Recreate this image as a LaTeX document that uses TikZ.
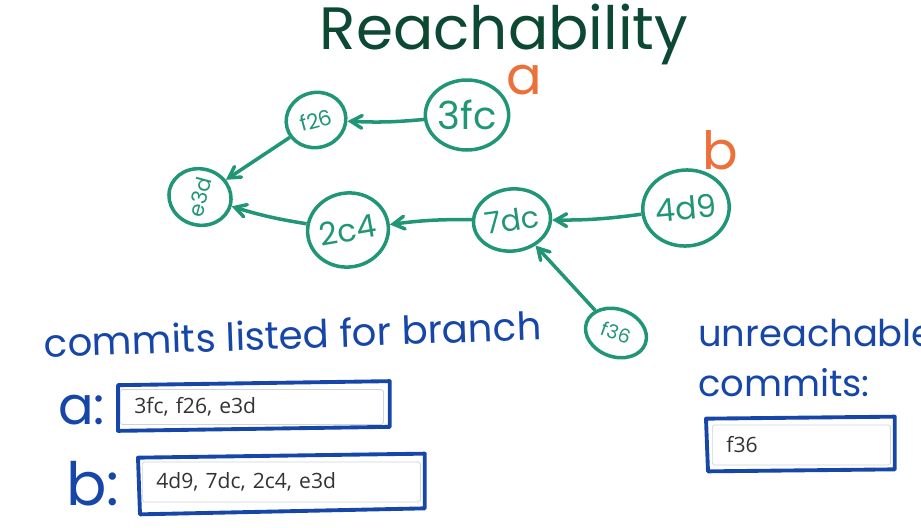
\documentclass[tikz,border=0pt]{standalone}
\usepackage{fontspec}
\setmainfont{Poppins}
\newfontfamily\boxfont{Open Sans}
\usetikzlibrary{arrows}
\usetikzlibrary{shapes.geometric}
\usetikzlibrary{calc}

\definecolor{commitgreen}{RGB}{32,150,118}
\definecolor{titlegreen}{RGB}{12,72,50}
\definecolor{branchorange}{RGB}{236,112,58}
\definecolor{penblue}{RGB}{22,70,168}
\definecolor{fieldgray}{RGB}{205,212,220}

\tikzset{
  commit/.style={ellipse, draw=commitgreen, line width=2pt, inner sep=0pt,
    text=commitgreen, font=\fontsize{13}{13}\selectfont},
  parent/.style={draw=commitgreen, line width=2pt, ->, >=angle 60},
  branch/.style={text=branchorange, font=\fontsize{30}{30}\selectfont},
  pen/.style={text=penblue, font=\fontsize{22}{22}\selectfont, anchor=west},
  field/.style={draw=fieldgray, fill=white, rounded corners=1pt, anchor=west,
    text=black!80, font=\boxfont\fontsize{12}{12}\selectfont, inner xsep=8pt, align=left},
  handbox/.style={draw=penblue, line width=2.2pt, line join=round}
}

\begin{document}
\begin{tikzpicture}[x=0.02cm, y=-0.02cm]
  \useasboundingbox (0,0) rectangle (921,528);
  \clip (0,0) rectangle (921,528);

  % title
  \node (title) [text=titlegreen, font=\fontsize{34}{34}\selectfont] at (504,34) {Reachability};

  % commits
  \node (e3d) [commit, minimum width=1.1cm, minimum height=1.25cm, rotate=75, font=\fontsize{12}{12}\selectfont] at (200,197) {e3d};
  \node (f26) [commit, minimum width=1.2cm, minimum height=1.1cm, rotate=15, font=\fontsize{12}{12}\selectfont] at (316,120) {f26};
  \node (3fc) [commit, minimum width=1.6cm, minimum height=1.4cm, font=\fontsize{22}{22}\selectfont] at (467,115) {3fc};
  \node (2c4) [commit, minimum width=1.28cm, minimum height=1.48cm, rotate=10, font=\fontsize{18}{18}\selectfont] at (348,230) {2c4};
  \node (7dc) [commit, minimum width=1.44cm, minimum height=1.24cm, rotate=8, font=\fontsize{17}{17}\selectfont] at (512,220) {7dc};
  \node (4d9) [commit, minimum width=1.48cm, minimum height=1.52cm, rotate=5, font=\fontsize{18}{18}\selectfont] at (686,208) {4d9};
  \node (f36) [commit, minimum width=1.25cm, minimum height=0.95cm, rotate=-20, font=\fontsize{11}{11}\selectfont] at (616,333) {f36};

  % branch labels
  \node (a) [branch] at (524,80) {a};
  \node (b) [branch] at (720,150) {b};

  % parent links
  \draw[parent] (3fc) to[bend left=4] (f26);
  \draw[parent] (f26) -- (e3d);
  \draw[parent] (7dc) to[bend right=4] (2c4);
  \draw[parent] (2c4) to[bend left=4] (e3d);
  \draw[parent] (4d9) to[bend left=4] (7dc);
  \draw[parent] (f36) -- (7dc);

  % lists
  \node (listed) [pen, rotate=2] at (38,343) {commits listed for branch};
  \node (la) [pen, font=\fontsize{30}{30}\selectfont] at (52,410) {a:};
  \node (lb) [pen, font=\fontsize{34}{34}\selectfont] at (60,484) {b:};
  \node (boxa) [field, text width=4.7cm, minimum height=0.7cm] at (120,407) {3fc, f26, e3d};
  \node (boxb) [field, text width=5.0cm, minimum height=0.8cm] at (142,482) {4d9, 7dc, 2c4, e3d};
  \draw[handbox] ($(boxa.north west)+(-2,-4)$) -- ($(boxa.north east)+(6,-8)$)
    -- ($(boxa.south east)+(6,2)$) -- ($(boxa.south west)+(-2,6)$) -- cycle;
  \draw[handbox] ($(boxb.north west)+(-4,-4)$) -- ($(boxb.north east)+(4,-8)$)
    -- ($(boxb.south east)+(4,6)$) -- ($(boxb.south west)+(-2,12)$) -- cycle;

  \node (unreach) [pen, align=left, font=\fontsize{21}{29}\selectfont] at (692,358) {unreachable\\commits:};
  \node (boxu) [field, text width=3.0cm, minimum height=0.8cm] at (712,445) {f36};
  \draw[handbox] ($(boxu.north west)+(-6,-6)$) -- ($(boxu.north east)+(4,-8)$)
    -- ($(boxu.south east)+(4,4)$) -- ($(boxu.south west)+(-4,6)$) -- cycle;
\end{tikzpicture}
\end{document}
